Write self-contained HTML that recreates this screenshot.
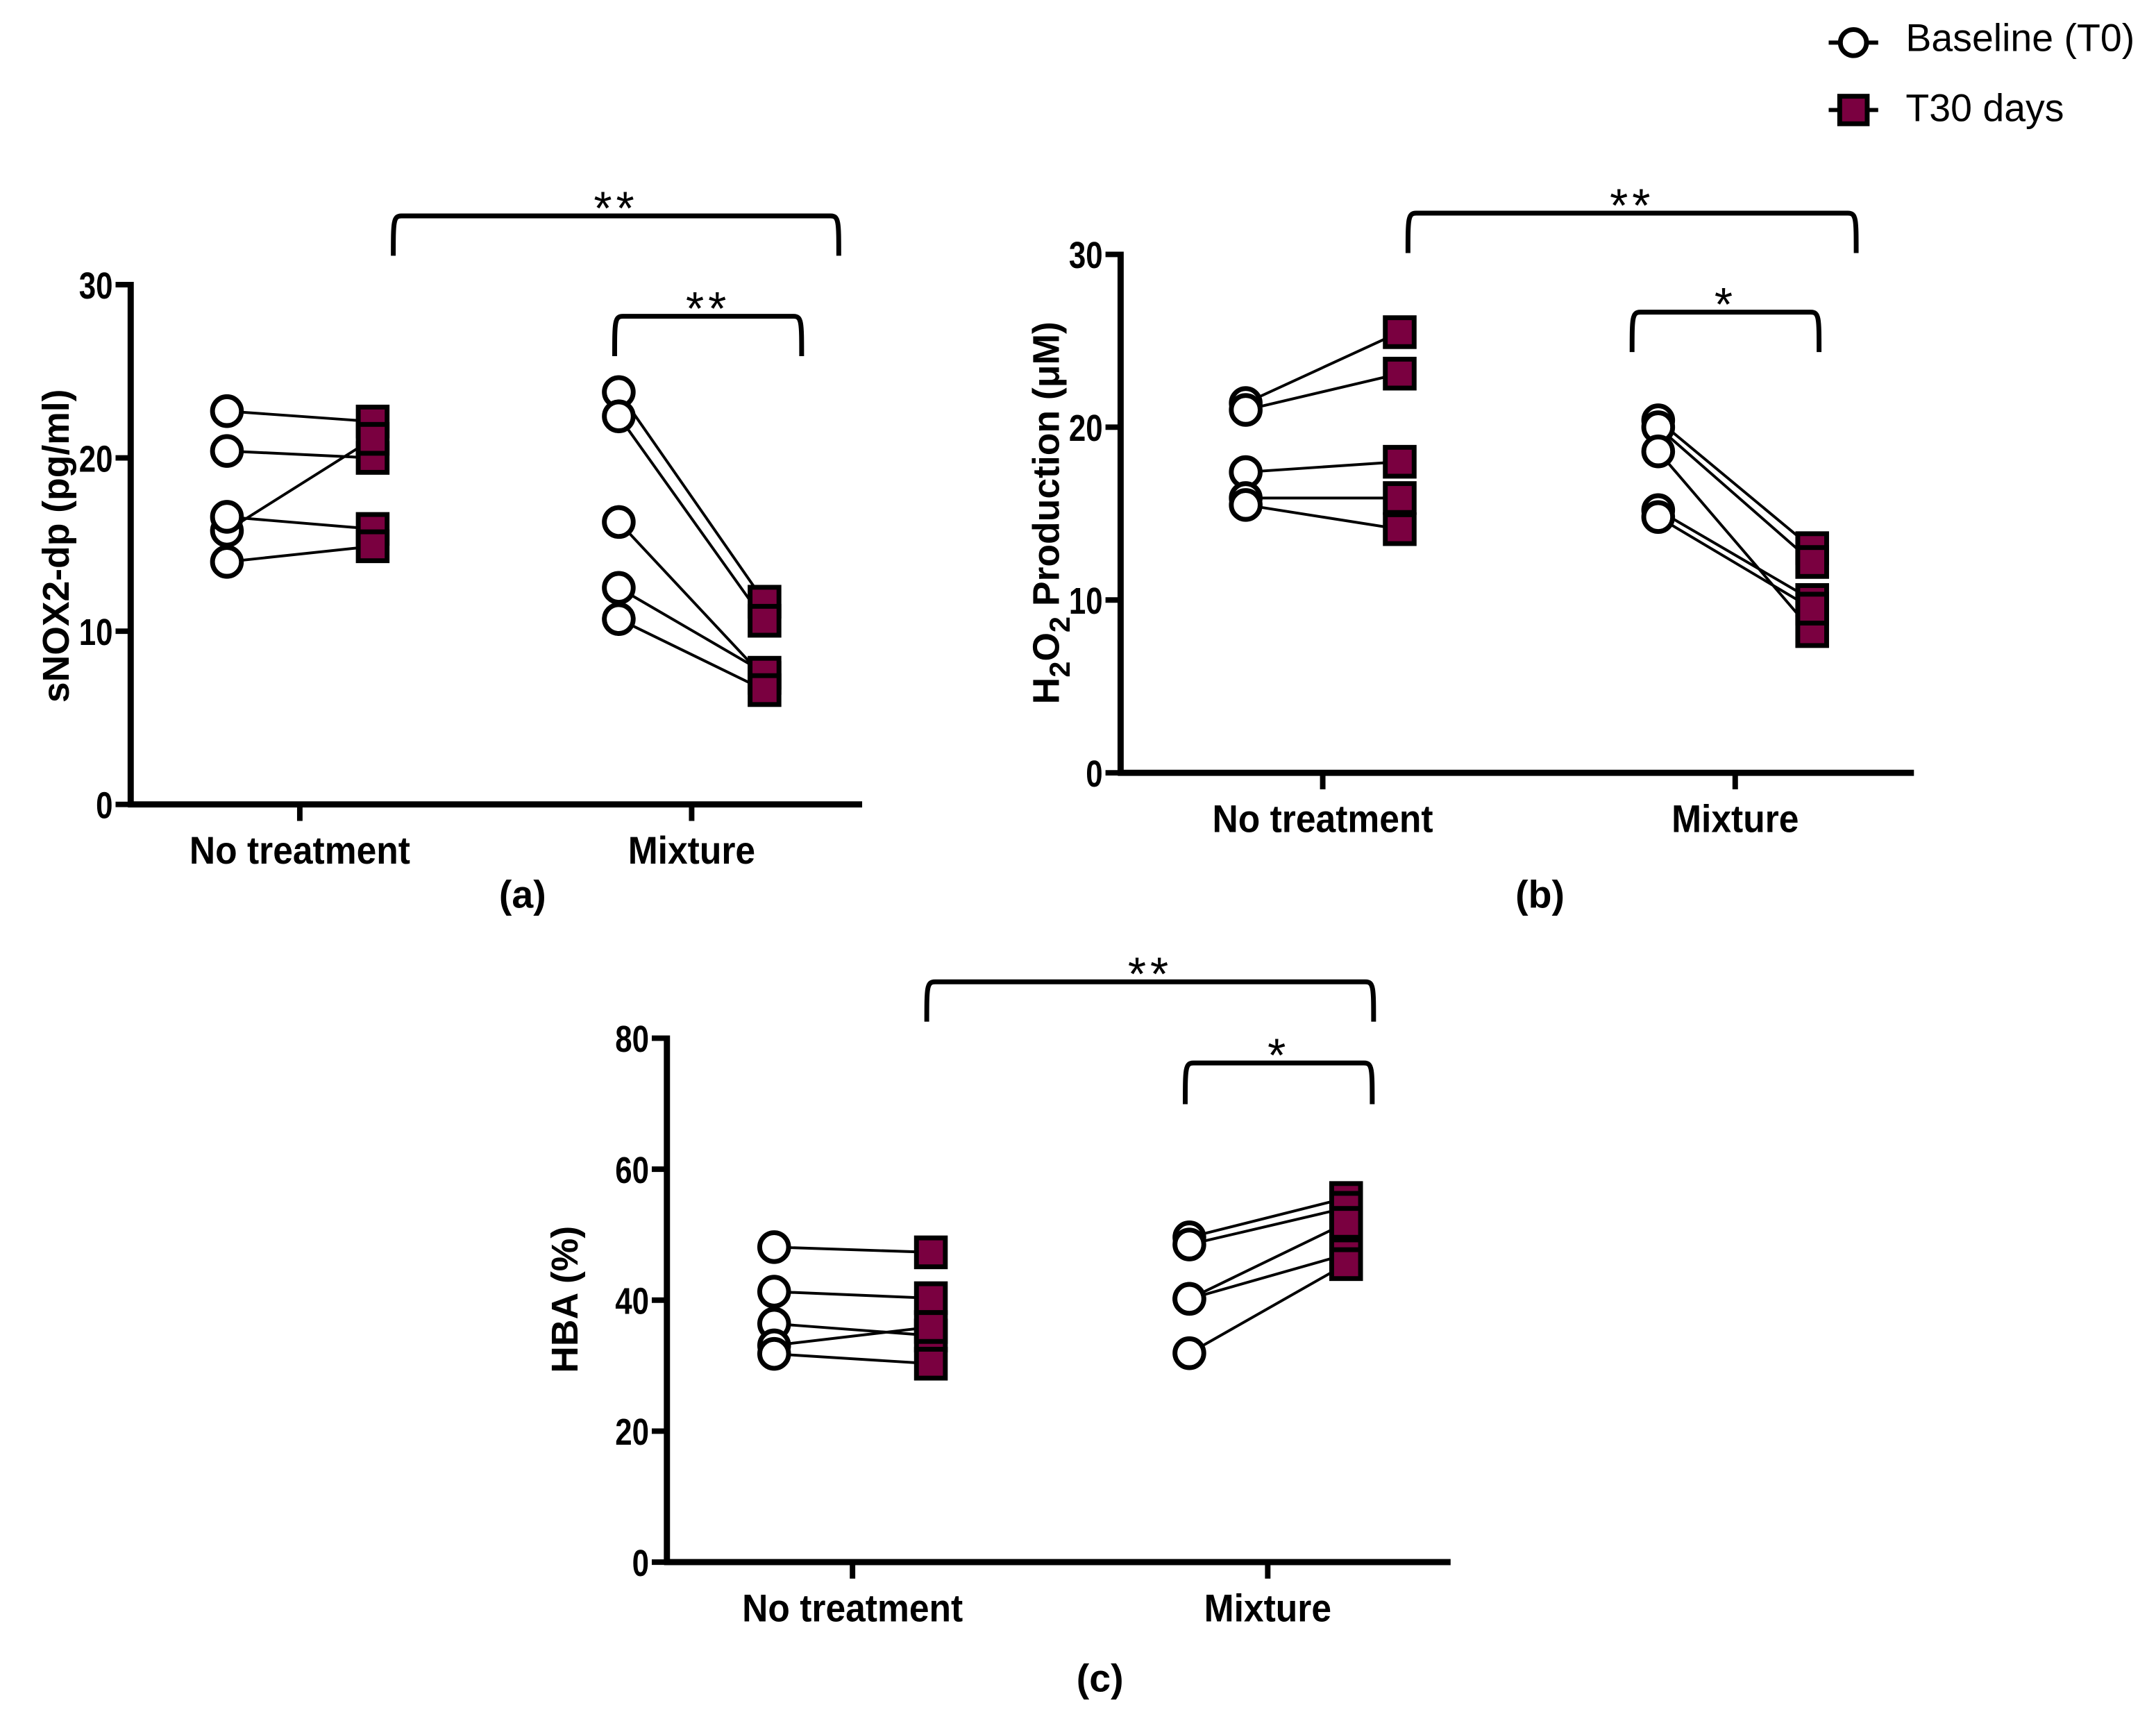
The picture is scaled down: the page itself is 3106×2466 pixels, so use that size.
<!DOCTYPE html>
<html><head><meta charset="utf-8"><style>
html,body{margin:0;padding:0;background:#fff}
svg{display:block}
text{font-family:"Liberation Sans",sans-serif}
</style></head><body>
<svg id="fig" width="3106" height="2466" viewBox="0 0 1568 1245" xmlns="http://www.w3.org/2000/svg">
<g>
 <g>
  <line x1="1330" y1="31" x2="1366" y2="31" stroke="#000" stroke-width="3"/>
  <circle cx="1348" cy="31" r="9.5" fill="#fff" stroke="#000" stroke-width="3.5"/>
  <text x="1386" y="37" font-size="28">Baseline (T0)</text>
 </g>
 <g>
  <line x1="1330" y1="80" x2="1366" y2="80" stroke="#000" stroke-width="3"/>
  <rect x="1338" y="70" width="20" height="20" fill="#7a0040" stroke="#000" stroke-width="3.5"/>
  <text x="1386" y="88" font-size="28">T30 days</text>
 </g>
</g>
</svg>
<script>
// Panel (a) sNOX2-dp
const aCategories = ["No treatment", "Mixture"];
const aTicks = [0, 10, 20, 30];
const aNoTreatT0 = [22.7, 20.4, 15.8, 16.6, 14.0];
const aNoTreatT30 = [22.1, 20.0, 21.1, 15.9, 14.9];
const aMixT0 = [23.8, 22.4, 16.3, 12.5, 10.7];
const aMixT30 = [11.7, 10.6, 7.3, 7.6, 6.6];
// Panel (b) H2O2
const bCategories = ["No treatment", "Mixture"];
const bTicks = [0, 10, 20, 30];
const bNoTreatT0 = [21.4, 21.0, 17.4, 15.9, 15.5];
const bNoTreatT30 = [25.5, 23.1, 18.0, 15.9, 14.1];
const bMixT0 = [20.4, 20.0, 18.6, 15.2, 14.8];
const bMixT30 = [13.0, 12.2, 8.2, 10.0, 9.5];
// Panel (c) HBA
const cCategories = ["No treatment", "Mixture"];
const cTicks = [0, 20, 40, 60, 80];
const cNoTreatT0 = [48.1, 41.3, 36.4, 33.1, 31.8];
const cNoTreatT30 = [47.3, 40.3, 34.6, 35.9, 30.3];
const cMixT0 = [49.6, 48.5, 40.2, 40.2, 31.9];
const cMixT30 = [55.6, 54.1, 51.8, 47.0, 45.5];

const NS = "http://www.w3.org/2000/svg";
const svg = document.getElementById('fig');
function mk(tag, attrs, parent){const e=document.createElementNS(NS,tag);for(const k in attrs)e.setAttribute(k,attrs[k]);(parent||svg).appendChild(e);return e;}

function panel(cfg){
  const g = mk('g',{});
  
  
  const y = v => cfg.y0 - (v - cfg.ticks[0]) / (cfg.ticks[cfg.ticks.length-1]-cfg.ticks[0]) * (cfg.y0 - cfg.yTop);
  const ya = mk('line',{x1:cfg.x0,y1:cfg.yTop-2,x2:cfg.x0,y2:cfg.y0+2,stroke:'#000','stroke-width':4.5},g);
  
  
  const xa = mk('line',{x1:cfg.x0-2,y1:cfg.y0,x2:cfg.xEnd,y2:cfg.y0,stroke:'#000','stroke-width':4.5},g);
  
  
  cfg.ticks.forEach(t=>{
    mk('line',{x1:cfg.x0-11,y1:y(t),x2:cfg.x0,y2:y(t),stroke:'#000','stroke-width':4},g);
    const tx = mk('text',{x:cfg.x0-13,y:y(t)+10,'font-size':27,'font-weight':'bold','text-anchor':'end',transform:`translate(${cfg.x0-13} 0) scale(0.82 1) translate(${-(cfg.x0-13)} 0)`},g);
    tx.textContent = t;
    
    
  });
  cfg.cats.forEach((c,i)=>{
    const cx = cfg.catX[i];
    mk('line',{x1:cx,y1:cfg.y0,x2:cx,y2:cfg.y0+12,stroke:'#000','stroke-width':4},g);
    const tx = mk('text',{x:cx,y:cfg.y0+43,'font-size':28,'font-weight':'bold','text-anchor':'middle',transform:`translate(${cx} 0) scale(0.93 1) translate(${-cx} 0)`},g);
    tx.textContent = c;
    
    
  });
  const tt = mk('text',{x:0,y:0,'font-size':27,'font-weight':'bold','text-anchor':'middle',transform:`translate(${cfg.titleX} ${cfg.titleY}) rotate(-90)`},g);
  tt.innerHTML = cfg.title;
  
  
  const pl = mk('text',{x:cfg.labX,y:cfg.labY,'font-size':28,'font-weight':'bold','text-anchor':'middle'},g);
  pl.textContent = cfg.label;
  
  
  cfg.groups.forEach((grp,gi)=>{
    const [t0,t30] = grp;
    const xc = cfg.catX[gi]-cfg.off, xs = cfg.catX[gi]+cfg.off;
    t0.forEach((v,k)=>{
      const l = mk('line',{x1:xc,y1:y(v),x2:xs,y2:y(t30[k]),stroke:'#000','stroke-width':2},g);
      
      
    });
    t0.forEach(v=>{
      const c = mk('circle',{cx:xc,cy:y(v),r:10.5,fill:'#fff',stroke:'#000','stroke-width':3.5},g);
      
      
    });
    t30.forEach(v=>{
      const r = mk('rect',{x:xs-10.5,y:y(v)-10.5,width:21,height:21,fill:'#7a0040',stroke:'#000','stroke-width':3.5},g);
      
      
    });
  });
  cfg.brackets.forEach(b=>{
    const p = mk('path',{d:`M${b.x1} ${b.yb} C${b.x1} ${b.yt+4} ${b.x1} ${b.yt} ${b.x1+6} ${b.yt} L${b.x2-6} ${b.yt} C${b.x2} ${b.yt} ${b.x2} ${b.yt+4} ${b.x2} ${b.yb}`,fill:'none',stroke:'#000','stroke-width':3.5},g);
    
    
    const s = mk('text',{x:(b.x1+b.x2)/2,y:b.yt+6,'font-size':34,'text-anchor':'middle','letter-spacing':'3'},g);
    s.textContent = b.s;
    
    
  });
}

panel({name:'panel-a',ticks:aTicks,x0:95,xEnd:627,yTop:207,y0:585,cats:aCategories,catX:[218,503],off:53,
  title:'sNOX2-dp (pg/ml)',titleX:50,titleY:397,label:'(a)',labX:380,labY:660,
  groups:[[aNoTreatT0,aNoTreatT30],[aMixT0,aMixT30]],
  brackets:[{x1:286,x2:610,yt:157,yb:186,s:'**'},{x1:447,x2:583,yt:230,yb:259,s:'**'}]});
panel({name:'panel-b',ticks:bTicks,x0:815,xEnd:1392,yTop:185,y0:562,cats:bCategories,catX:[962,1262],off:56,
  title:'H<tspan dy="8" font-size="21">2</tspan><tspan dy="-8">O</tspan><tspan dy="8" font-size="21">2</tspan><tspan dy="-8"> Production (μM)</tspan>',titleX:770,titleY:373,label:'(b)',labX:1120,labY:660,
  groups:[[bNoTreatT0,bNoTreatT30],[bMixT0,bMixT30]],
  brackets:[{x1:1024,x2:1350,yt:155,yb:184,s:'**'},{x1:1187,x2:1323,yt:227,yb:256,s:'*'}]});
panel({name:'panel-c',ticks:cTicks,x0:485,xEnd:1055,yTop:755,y0:1136,cats:cCategories,catX:[620,922],off:57,
  title:'HBA (%)',titleX:420,titleY:945,label:'(c)',labX:800,labY:1230,
  groups:[[cNoTreatT0,cNoTreatT30],[cMixT0,cMixT30]],
  brackets:[{x1:674,x2:999,yt:714,yb:743,s:'**'},{x1:862,x2:998,yt:773,yb:803,s:'*'}]});
</script>
</body></html>
